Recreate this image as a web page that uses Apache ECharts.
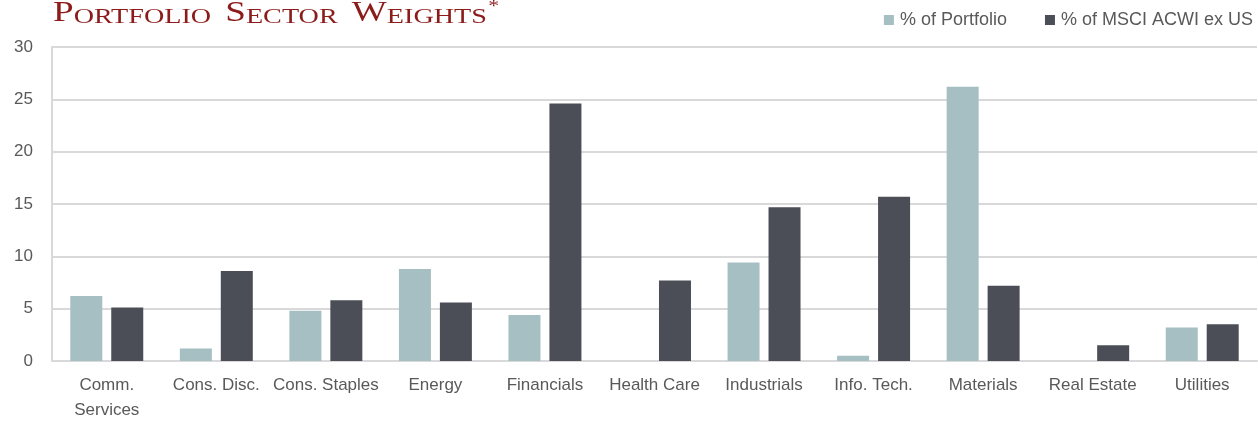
<!DOCTYPE html>
<html>
<head>
<meta charset="utf-8">
<script src="https://cdn.jsdelivr.net/npm/echarts@6/dist/echarts.min.js"></script>
<style>
  html, body { margin: 0; padding: 0; background: #ffffff; }
  #chart { width: 1258px; height: 421px; }
</style>
</head>
<body>
<div id="chart"></div>
<script>
// Sector names shown along the category axis
const sectors = [
  'Comm.\nServices', 'Cons. Disc.', 'Cons. Staples', 'Energy', 'Financials',
  'Health Care', 'Industrials', 'Info. Tech.', 'Materials', 'Real Estate', 'Utilities'
];

// Weight of each sector in the portfolio (%)
const portfolioWeights = [6.2, 1.2, 4.8, 8.8, 4.4, 0, 9.4, 0.5, 26.2, 0, 3.2];

// Weight of each sector in the benchmark (%)
const benchmarkWeights = [5.1, 8.6, 5.8, 5.6, 24.6, 7.7, 14.7, 15.7, 7.2, 1.5, 3.5];

const seriesNames = ['% of Portfolio', '% of MSCI ACWI ex US'];
const yTicks = { min: 0, max: 30, step: 5 };

const textGray = '#595959';
const gridGray = '#d9d9d9';
const titleRed = '#8b1c1a';
const serif = 'Liberation Serif';

const chart = echarts.init(document.getElementById('chart'), null, { renderer: 'canvas' });

const capStyle = { fontFamily: serif, fontWeight: 'normal', fontSize: 29, fill: titleRed, verticalAlign: 'bottom', lineHeight: 32 };
const scStyle = { fontFamily: serif, fontWeight: 'normal', fontSize: 22, fill: titleRed, verticalAlign: 'bottom', lineHeight: 32 };
const gapStyle = { fontFamily: serif, fontSize: 22, width: 11, lineHeight: 32, verticalAlign: 'bottom' };

chart.setOption({
  animation: false,
  backgroundColor: '#ffffff',
  color: ['#a5bfc3', '#4b4e57'],
  // small-caps heading, widened to the letter-spaced look of an engraved face
  graphic: [{
    type: 'text',
    x: 53,
    y: -4,
    originX: 0,
    originY: 0,
    scaleX: 1.28,
    scaleY: 1,
    silent: true,
    style: {
      text: '{cap|P}{sc|ORTFOLIO}{gap| }{cap|S}{sc|ECTOR}{gap| }{cap|W}{sc|EIGHTS}{sup|*}',
      verticalAlign: 'top',
      align: 'left',
      rich: {
        cap: capStyle,
        sc: scStyle,
        gap: gapStyle,
        sup: { fontFamily: serif, fontWeight: 'normal', fontSize: 17, fill: titleRed, verticalAlign: 'top', lineHeight: 32, padding: [2, 0, 0, 1] }
      }
    }
  }],
  legend: {
    right: 0,
    top: 6,
    itemWidth: 10,
    itemHeight: 10,
    itemGap: 38,
    icon: 'rect',
    textStyle: { fontFamily: 'Liberation Sans', fontSize: 18, color: textGray, padding: [0, 0, 0, 1] },
    data: seriesNames
  },
  grid: { left: 52, right: 1, top: 47, bottom: 60, containLabel: false, outerBoundsMode: 'none' },
  xAxis: {
    type: 'category',
    data: sectors,
    axisTick: { show: false },
    axisLine: { show: true, lineStyle: { color: gridGray, width: 2 } },
    axisLabel: {
      interval: 0,
      margin: 12,
      fontFamily: 'Liberation Sans',
      fontSize: 17,
      lineHeight: 25,
      color: textGray
    }
  },
  yAxis: {
    type: 'value',
    min: yTicks.min,
    max: yTicks.max,
    interval: yTicks.step,
    axisLine: { show: true, lineStyle: { color: gridGray, width: 2 } },
    axisTick: { show: false },
    splitLine: { show: true, lineStyle: { color: gridGray, width: 2 } },
    axisLabel: {
      margin: 19,
      fontFamily: 'Liberation Sans',
      fontSize: 17,
      color: textGray
    }
  },
  series: [
    {
      name: seriesNames[0],
      type: 'bar',
      data: portfolioWeights,
      barWidth: 32,
      barGap: '28%'
    },
    {
      name: seriesNames[1],
      type: 'bar',
      data: benchmarkWeights,
      barWidth: 32,
      barGap: '28%'
    }
  ]
});
</script>
</body>
</html>
